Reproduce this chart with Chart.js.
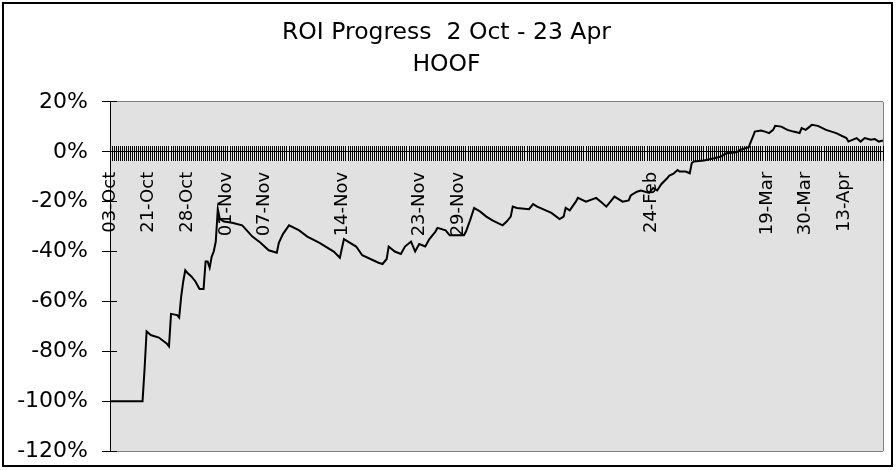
<!DOCTYPE html>
<html>
<head>
<meta charset="utf-8">
<script src="https://cdn.jsdelivr.net/npm/chart.js@4/dist/chart.umd.min.js"></script>
<style>
  html, body { margin: 0; padding: 0; background: #fff; }
  #wrap { position: relative; width: 896px; height: 470px; }
</style>
</head>
<body>
<div id="wrap"><canvas id="c"></canvas></div>
<script>
// ---- data ----
const titleLines = ['ROI Progress  2 Oct - 23 Apr', 'HOOF'];
const categoryCount = 381;               // number of bets / categories on the x axis
const tickLabels = ['03-Oct', '21-Oct', '28-Oct', '01-Nov', '07-Nov', '14-Nov', '23-Nov', '29-Nov', '24-Feb', '19-Mar', '30-Mar', '13-Apr'];
const tickLabelIndex = [0, 19, 38, 57, 76, 114, 152, 171, 266, 323, 342, 361];
const yTicks = [20, 0, -20, -40, -60, -80, -100, -120];

// vertices of the ROI line: category index and ROI %
const betIndex = [0, 16, 17, 18, 20, 24, 28, 29, 30, 33, 34, 35, 36, 37, 38, 40, 42, 44, 46, 47, 48, 49, 50, 51, 52, 53, 54, 56, 60, 65,
  70, 74, 78, 82, 83, 85, 88, 93, 97, 103, 110, 113, 115, 121, 124, 132,
  134, 136, 137, 140, 143, 145, 148, 150, 152, 155, 157, 160, 161, 165, 167, 174, 175, 177, 179, 182, 185, 188, 193, 195, 197, 198, 200,
  206, 208, 210, 217, 221, 223, 224, 226, 229, 230, 234, 239, 242, 244, 246, 248, 252, 255, 256, 259, 261, 265, 267, 269, 271, 274, 275,
  277, 279, 280, 283, 285, 286, 287, 292, 297, 300, 303, 308, 310, 314, 315, 316, 317, 320, 322, 324, 326, 327, 330, 333, 336, 339, 340,
  342, 344, 345, 348, 352, 357, 362, 363, 367, 369, 371, 374, 376, 378, 380];
const roiPct = [-100, -100, -87, -72, -73.5, -74.5, -77, -78, -65, -65.5, -66.5, -58, -52, -47.5, -48.5, -50, -52, -55, -55, -44, -44, -46.5, -42, -40, -36, -23, -27, -28, -28.5, -29.5,
  -34, -36.5, -39.5, -40.5, -36.5, -33, -29.5, -31.5, -34, -36.5, -40, -42.5, -35, -38, -41.5, -44.5,
  -45, -43, -38, -40, -41, -38, -36, -40, -37, -38, -35, -32, -30.5, -31.5, -33.5, -33.5, -32, -27.5, -22.5, -24, -26, -27.5, -29.5, -28, -26, -22, -22.5,
  -23, -21, -22, -24.5, -27, -26, -22.5, -23.5, -20, -18.5, -20, -18.5, -20.5, -22, -20, -18, -20, -19.5, -17.5, -16, -15.5, -16.5, -14.5, -15.5, -13, -10.5, -9.5,
  -8.8, -7.3, -7.9, -7.9, -8.6, -4.5, -3.9, -3.5, -2.6, -2, -0.6, -0.2, 0.8, 1.8, 4, 6, 8.1, 8.5, 8.1, 7.5, 8.8, 10.4, 10.1, 8.8, 8.1, 7.5, 9.5,
  8.8, 10.1, 10.8, 10.4, 8.8, 7.5, 5.5, 4.1, 5.5, 4.1, 5.5, 4.8, 5.1, 4.1, 4.5];

// ---- build library structures ----
const labelAt = {};
tickLabels.forEach((t, i) => { labelAt[tickLabelIndex[i]] = t; });
const points = betIndex.map((x, i) => ({ x: x, y: roiPct[i] }));

const FONT = 'DejaVu Sans';

function zeroPad(scale) {
  scale.paddingLeft = 0; scale.paddingRight = 0; scale.paddingTop = 0; scale.paddingBottom = 0;
}

const framePlugin = {
  id: 'frame',
  beforeDraw(chart) {
    const ctx = chart.ctx, a = chart.chartArea;
    ctx.save();
    ctx.fillStyle = '#ffffff';
    ctx.fillRect(0, 0, chart.width, chart.height);
    ctx.fillStyle = '#e1e1e1';
    ctx.fillRect(a.left, a.top, a.right - a.left, a.bottom - a.top);
    ctx.strokeStyle = '#000';
    ctx.lineWidth = 2;
    ctx.strokeRect(3, 3, chart.width - 7, chart.height - 7);
    ctx.restore();
  }
};

new Chart(document.getElementById('c'), {
  type: 'line',
  data: {
    datasets: [{
      data: points,
      borderColor: '#000',
      borderWidth: 2,
      pointRadius: 0,
      tension: 0,
      fill: false
    }]
  },
  options: {
    responsive: true,
    maintainAspectRatio: false,
    devicePixelRatio: 1,
    animation: false,
    layout: { padding: { left: 10, right: 13, top: 0, bottom: 19 } },
    plugins: {
      legend: { display: false },
      tooltip: { enabled: false },
      title: {
        display: true,
        text: titleLines,
        color: '#000',
        font: { family: FONT, size: 23.5, weight: 'normal', lineHeight: 1.36 },
        padding: { top: 17, bottom: 21 }
      }
    },
    scales: {
      x: {
        type: 'linear',
        min: 0,
        max: categoryCount - 1,
        position: { y: 2.4 },
        afterFit(scale) { scale.height = 0; zeroPad(scale); },
        border: { display: false },
        grid: {
          drawOnChartArea: true,
          color: (c) => (c.tick && c.tick.value === categoryCount - 1) ? '#808080' : 'rgba(0,0,0,0)',
          tickColor: '#000',
          tickLength: 15,
          lineWidth: 1
        },
        ticks: {
          stepSize: 1,
          autoSkip: false,
          minRotation: 90,
          maxRotation: 90,
          padding: 11,
          color: '#000',
          font: { family: FONT, size: 18 },
          callback: (v) => labelAt[v] !== undefined ? labelAt[v] : ''
        }
      },
      y: {
        type: 'linear',
        min: -120,
        max: 20,
        position: 'left',
        afterFit(scale) { scale.width = 100; zeroPad(scale); },
        border: { display: true, color: '#000', width: 1 },
        grid: {
          drawOnChartArea: true,
          color: (c) => c.tick && c.tick.value === 0 ? '#000' : ((c.tick && (c.tick.value === 20 || c.tick.value === -120)) ? '#808080' : 'rgba(0,0,0,0)'),
          tickColor: '#000',
          tickLength: 8,
          lineWidth: 1
        },
        ticks: {
          stepSize: 20,
          padding: 14,
          color: '#000',
          font: { family: FONT, size: 22 },
          callback: (v) => yTicks.includes(v) ? v + '%' : ''
        }
      },
      yInner: {
        type: 'linear',
        min: -120,
        max: 20,
        position: { x: 3.5 },
        afterFit(scale) { scale.width = 0; zeroPad(scale); },
        border: { display: false },
        grid: {
          drawOnChartArea: false,
          color: '#000',
          tickColor: '#000',
          tickLength: 7,
          lineWidth: 1
        },
        ticks: {
          stepSize: 20,
          callback: () => ''
        }
      }
    }
  },
  plugins: [framePlugin]
});
</script>
</body>
</html>
